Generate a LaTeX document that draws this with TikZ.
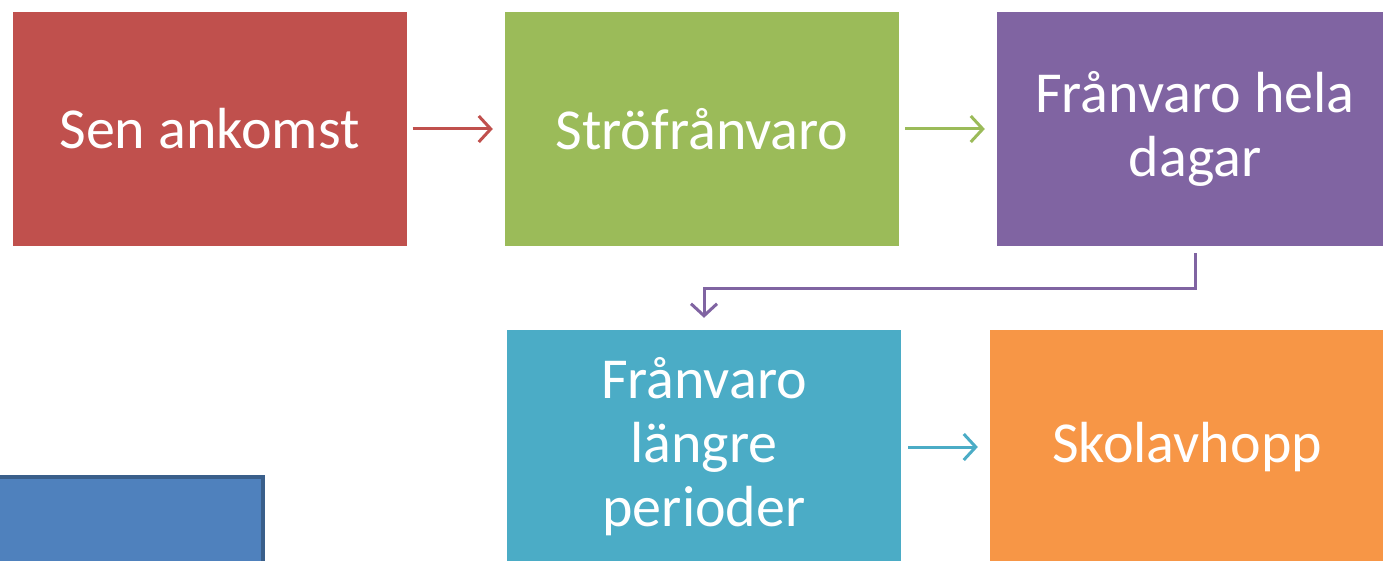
\documentclass[tikz,border=0pt]{standalone}
\usepackage{fontspec}
\setmainfont{Carlito}
\usetikzlibrary{arrows.meta}
\definecolor{cred}{HTML}{C0504D}
\definecolor{cgreen}{HTML}{9BBB59}
\definecolor{cpurple}{HTML}{8064A2}
\definecolor{ccyan}{HTML}{4BACC6}
\definecolor{corange}{HTML}{F79646}
\definecolor{cblue}{HTML}{4F81BD}
\definecolor{cblueb}{HTML}{3A5F8B}
\begin{document}
\begin{tikzpicture}[x=1pt,y=1pt,
  box/.style={minimum width=394pt,minimum height=234pt,inner sep=0pt,text=white,
    align=center,font=\fontsize{58}{64}\selectfont},
  tip/.style={-{Straight Barb[length=12pt,width=26pt,line width=3pt]}},
  conn/.style={line width=3pt,tip,shorten <=6pt,shorten >=12pt}]
\useasboundingbox (0,0) rectangle (1383,-561);
\begin{scope}
\clip (0,0) rectangle (1383,-561);
\node[box,fill=cred] (sen) at (209.5,-129) {Sen ankomst};
\node[box,fill=cgreen] (stro) at (702,-129) {Ströfrånvaro};
\node[box,fill=cpurple,minimum width=396pt] (hela) at (1195,-129) {Frånvaro hela\\dagar};
\node[box,fill=ccyan] (lang) at (704,-447) {Frånvaro\\längre\\perioder};
\node[box,fill=corange] (skol) at (1187,-447) {Skolavhopp};
\node[box,fill=cblue,draw=cblueb,line width=4pt] (blue) at (66,-594) {};
\draw[conn,cred] (sen) -- (stro);
\draw[conn,cgreen] (stro) -- (hela);
\draw[conn,ccyan,shorten <=7pt] (lang) -- (skol);
\coordinate (bend) at (950,-288);
\draw[conn,cpurple,shorten <=7pt] (hela.south) |- (bend) -| (lang.north);
\end{scope}
\end{tikzpicture}
\end{document}
